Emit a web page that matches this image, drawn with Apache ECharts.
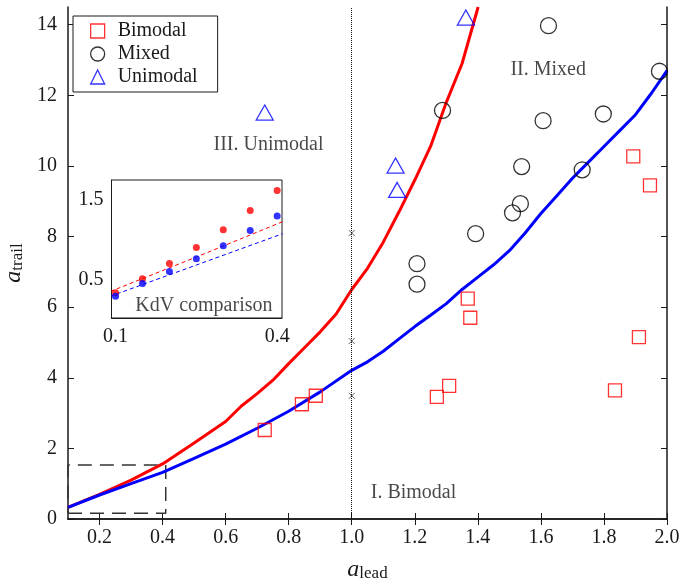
<!DOCTYPE html>
<html>
<head>
<meta charset="utf-8">
<script src="https://cdn.jsdelivr.net/npm/echarts@6/dist/echarts.min.js"></script>
<style>
    html, body { margin: 0; padding: 0; background: #fff; }
    #chart { width: 684px; height: 582px; }
</style>
</head>
<body>
<div id="chart"></div>
<script>
// markers: [a_lead, a_trail]
var bimodal = [[0.724, 2.52], [0.842, 3.25], [0.886, 3.49], [1.270, 3.46], [1.309, 3.77],
    [1.368, 6.24], [1.376, 5.70], [1.835, 3.64], [1.911, 5.15], [1.893, 10.27], [1.946, 9.45]]
var mixed = [[1.207, 7.23], [1.207, 6.65], [1.393, 8.08], [1.510, 8.67], [1.535, 8.93],
    [1.288, 11.57], [1.624, 13.97], [1.607, 11.28], [1.539, 9.98], [1.731, 9.89],
    [1.798, 11.47], [1.976, 12.68]]
var unimodal = [[0.724, 11.51], [1.139, 10.01], [1.144, 9.32], [1.362, 14.2]]

// boundary curves
var redCurve = [[0.1, 0.33], [0.2, 0.7], [0.3, 1.1], [0.4, 1.56], [0.5, 2.15], [0.6, 2.76],
    [0.65, 3.2], [0.7, 3.55], [0.75, 3.93], [0.8, 4.4], [0.85, 4.85], [0.9, 5.3],
    [0.95, 5.8], [1.0, 6.5], [1.05, 7.1], [1.1, 7.84], [1.15, 8.7], [1.2, 9.6],
    [1.25, 10.55], [1.3, 11.8], [1.35, 12.9], [1.401, 14.5]]
var blueCurve = [[0.1, 0.33], [0.2, 0.68], [0.3, 1.0], [0.4, 1.32], [0.5, 1.72], [0.6, 2.12],
    [0.7, 2.57], [0.8, 3.05], [0.9, 3.6], [1.0, 4.21], [1.05, 4.45], [1.1, 4.75],
    [1.15, 5.1], [1.2, 5.45], [1.25, 5.77], [1.3, 6.1], [1.35, 6.5], [1.4, 6.85],
    [1.45, 7.2], [1.5, 7.6], [1.55, 8.1], [1.6, 8.65], [1.65, 9.15], [1.7, 9.65],
    [1.75, 10.1], [1.8, 10.55], [1.85, 11.0], [1.9, 11.45], [1.95, 12.05], [2.0, 12.7]]

// crosses on the a_lead = 1 line
var crosses = [[1.0, 8.10], [1.0, 5.04], [1.0, 3.49]]
// dashed zoom box
var zoomBox = [[0.1, 0.16], [0.41, 0.16], [0.41, 1.53], [0.1, 1.53], [0.1, 0.16]]

var regionLabels = [['III. Unimodal', 0.736, 10.6], ['II. Mixed', 1.623, 12.72], ['I. Bimodal', 1.196, 0.74]]

// inset: KdV comparison
var insetX = [0.1, 0.15, 0.2, 0.25, 0.3, 0.35, 0.4]
var insetRed = [0.335, 0.51, 0.70, 0.90, 1.12, 1.36, 1.61]
var insetBlue = [0.29, 0.45, 0.60, 0.76, 0.92, 1.11, 1.29]
var kdvRed = [[0.09, 0.35], [0.25, 0.78], [0.41, 1.22]]
var kdvBlue = [[0.09, 0.29], [0.25, 0.68], [0.41, 1.07]]

var xTicks = [0.2, 0.4, 0.6, 0.8, 1.0, 1.2, 1.4, 1.6, 1.8, 2.0]
var yTicks = [0, 2, 4, 6, 8, 10, 12, 14]

var font = 'Liberation Serif'
var ink = '#1a1a1a'

var myChart = echarts.init(document.getElementById('chart'))

function zip(xs, ys) {
    return xs.map(function (x, i) { return [x, ys[i]] })
}

var frameAxis = {
    axisLine: { lineStyle: { color: ink, width: 1.5 } },
    splitLine: { show: false }
}

var options = {
    animation: false,
    backgroundColor: '#fff',
    textStyle: { fontFamily: font, color: ink },
    grid: [
        { left: 68, right: 17, top: 7, bottom: 63, outerBoundsMode: 'none', containLabel: false },
        { left: 111.5, top: 180, width: 170.5, height: 138, outerBoundsMode: 'none', containLabel: false,
            show: true, borderColor: ink, borderWidth: 1, backgroundColor: '#fff', z: 5 }
    ],
    legend: {
        orient: 'vertical',
        left: 73,
        top: 16,
        padding: [5, 20, 5, 17],
        itemGap: 3,
        itemWidth: 14,
        itemHeight: 14,
        backgroundColor: '#fff',
        borderColor: ink,
        borderWidth: 1,
        borderRadius: 0,
        textStyle: { fontFamily: font, fontSize: 20, color: ink, padding: [0, 0, 0, 8] },
        data: [
            { name: 'Bimodal', icon: 'rect', itemStyle: { color: 'transparent', borderColor: '#f00', borderWidth: 1.3 } },
            { name: 'Mixed', icon: 'circle', itemStyle: { color: 'transparent', borderColor: '#000', borderWidth: 1.3 } },
            { name: 'Unimodal', icon: 'triangle', itemStyle: { color: 'transparent', borderColor: '#00f', borderWidth: 1.3 } }
        ]
    },
    xAxis: [
        Object.assign({}, frameAxis, {
            type: 'value', gridIndex: 0, min: 0.1, max: 2.0, position: 'bottom',
            name: '{a|a}{s|lead}',
            nameLocation: 'middle',
            nameGap: 39,
            nameTextStyle: {
                rich: {
                    a: { fontFamily: font, fontStyle: 'italic', fontSize: 24, color: ink, lineHeight: 24 },
                    s: { fontFamily: font, fontSize: 17, color: ink, lineHeight: 10, verticalAlign: 'bottom' }
                }
            },
            axisTick: { inside: true, length: 6, customValues: xTicks, lineStyle: { color: ink } },
            axisLabel: { customValues: xTicks, fontFamily: font, fontSize: 20, color: ink, margin: 9,
                formatter: function (v) { return v.toFixed(1) } }
        }),
        Object.assign({}, frameAxis, {
            type: 'value', gridIndex: 0, min: 0.1, max: 2.0, position: 'top',
            axisTick: { inside: true, length: 6, customValues: xTicks, lineStyle: { color: ink } },
            axisLabel: { show: false }
        }),
        {
            type: 'value', gridIndex: 1, min: 0.0925, max: 0.409, position: 'bottom',
            axisLine: { lineStyle: { color: ink, width: 1 } },
            splitLine: { show: false },
            axisTick: { inside: true, length: 4, customValues: [0.1, 0.4], lineStyle: { color: ink } },
            axisLabel: { customValues: [0.1, 0.4], fontFamily: font, fontSize: 20, color: ink, margin: 9,
                formatter: function (v) { return v.toFixed(1) } }
        }
    ],
    yAxis: [
        Object.assign({}, frameAxis, {
            type: 'value', gridIndex: 0, min: 0, max: 14.5, position: 'left',
            name: '{a|a}{s|trail}',
            nameLocation: 'middle',
            nameGap: 34,
            nameRotate: 90,
            nameTextStyle: {
                rich: {
                    a: { fontFamily: font, fontStyle: 'italic', fontSize: 24, color: ink, lineHeight: 24 },
                    s: { fontFamily: font, fontSize: 17, color: ink, lineHeight: 10, verticalAlign: 'bottom' }
                }
            },
            axisTick: { inside: true, length: 6, customValues: yTicks, lineStyle: { color: ink } },
            axisLabel: { customValues: yTicks, fontFamily: font, fontSize: 20, color: ink, margin: 11 }
        }),
        Object.assign({}, frameAxis, {
            type: 'value', gridIndex: 0, min: 0, max: 14.5, position: 'right',
            axisTick: { inside: true, length: 6, customValues: yTicks, lineStyle: { color: ink } },
            axisLabel: { show: false }
        }),
        {
            type: 'value', gridIndex: 1, min: 0.02, max: 1.74, position: 'left',
            axisLine: { lineStyle: { color: ink, width: 1 } },
            splitLine: { show: false },
            axisTick: { inside: true, length: 4, customValues: [0.5, 1.5], lineStyle: { color: ink } },
            axisLabel: { customValues: [0.5, 1.5], fontFamily: font, fontSize: 20, color: ink, margin: 8 }
        }
    ],
    series: [
        {
            name: 'dividing line', type: 'line', xAxisIndex: 0, yAxisIndex: 0,
            data: [], symbol: 'none', silent: true,
            markLine: {
                silent: true, symbol: 'none', label: { show: false },
                lineStyle: { color: '#111', type: 'dotted', width: 1 },
                data: [{ xAxis: 1.0 }]
            }
        },
        {
            name: 'crosses', type: 'scatter', xAxisIndex: 0, yAxisIndex: 0,
            symbol: 'path://M0,0L10,10M10,0L0,10', symbolSize: 6,
            itemStyle: { color: 'transparent', borderColor: '#444', borderWidth: 1 },
            data: crosses
        },
        {
            name: 'zoom box', type: 'line', xAxisIndex: 0, yAxisIndex: 0,
            symbol: 'none', data: zoomBox,
            lineStyle: { color: '#333', width: 1.5, type: [14, 8] }
        },
        {
            name: 'upper', type: 'line', xAxisIndex: 0, yAxisIndex: 0,
            symbol: 'none', data: redCurve, clip: true,
            lineStyle: { color: '#f00', width: 3 }
        },
        {
            name: 'lower', type: 'line', xAxisIndex: 0, yAxisIndex: 0,
            symbol: 'none', data: blueCurve, clip: true,
            lineStyle: { color: '#00f', width: 3 }
        },
        {
            name: 'Bimodal', type: 'scatter', xAxisIndex: 0, yAxisIndex: 0,
            symbol: 'rect', symbolSize: 13, z: 4,
            itemStyle: { color: 'transparent', borderColor: '#f00', borderWidth: 1.3 },
            data: bimodal
        },
        {
            name: 'Mixed', type: 'scatter', xAxisIndex: 0, yAxisIndex: 0,
            symbol: 'circle', symbolSize: 16, z: 4,
            itemStyle: { color: 'transparent', borderColor: '#000', borderWidth: 1.3 },
            data: mixed
        },
        {
            name: 'Unimodal', type: 'scatter', xAxisIndex: 0, yAxisIndex: 0,
            symbol: 'triangle', symbolSize: [17, 15], z: 4,
            itemStyle: { color: 'transparent', borderColor: '#00f', borderWidth: 1.3 },
            data: unimodal
        },
        {
            name: 'region labels', type: 'scatter', xAxisIndex: 0, yAxisIndex: 0,
            symbolSize: 0, silent: true,
            label: {
                show: true, position: 'inside', fontFamily: font, fontSize: 20, color: ink,
                formatter: function (p) { return p.data[2] }
            },
            data: regionLabels.map(function (r) { return [r[1], r[2], r[0]] })
        },
        {
            name: 'kdv red', type: 'line', xAxisIndex: 2, yAxisIndex: 2,
            symbol: 'none', data: kdvRed, clip: true, z: 6,
            lineStyle: { color: '#f00', width: 1, type: [4, 3] }
        },
        {
            name: 'kdv blue', type: 'line', xAxisIndex: 2, yAxisIndex: 2,
            symbol: 'none', data: kdvBlue, clip: true, z: 6,
            lineStyle: { color: '#00f', width: 1, type: [4, 3] }
        },
        {
            name: 'inset red', type: 'scatter', xAxisIndex: 2, yAxisIndex: 2,
            symbolSize: 7, z: 7, itemStyle: { color: '#f00' },
            data: zip(insetX, insetRed)
        },
        {
            name: 'inset blue', type: 'scatter', xAxisIndex: 2, yAxisIndex: 2,
            symbolSize: 7, z: 7, itemStyle: { color: '#00f' },
            data: zip(insetX, insetBlue)
        },
        {
            name: 'inset caption', type: 'scatter', xAxisIndex: 2, yAxisIndex: 2,
            symbolSize: 0, silent: true, z: 8,
            label: {
                show: true, position: 'inside', fontFamily: font, fontSize: 20, color: ink,
                formatter: 'KdV comparison'
            },
            data: [[0.264, 0.175]]
        }
    ]
}
myChart.setOption(options)
</script>
</body>
</html>
